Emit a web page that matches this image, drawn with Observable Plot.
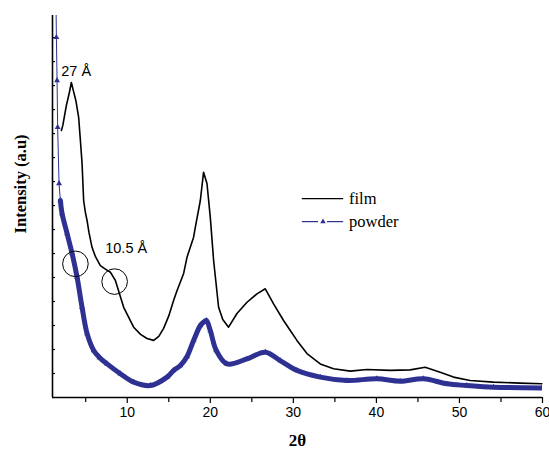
<!DOCTYPE html>
<html>
<head>
<meta charset="utf-8">
<script src="https://cdn.jsdelivr.net/npm/d3@7"></script>
<script src="https://cdn.jsdelivr.net/npm/@observablehq/plot@0.6"></script>
<style>
  html, body { margin: 0; padding: 0; background: #fff; }
</style>
</head>
<body>
<div id="chart"></div>
<script>
// ---- data ----
const filmX = [2.07, 2.25, 2.67, 3.03, 3.27, 3.51, 3.81, 4.15, 4.36, 4.56, 4.75, 4.96, 5.16, 5.39, 5.76, 6.16, 6.76, 7.37, 7.97, 8.57, 9.57, 10.77, 11.6, 12.38, 13.18, 13.8, 14.38, 15.0, 15.58, 16.0, 16.79, 17.2, 17.99, 18.2, 18.8, 19.19, 19.6, 20.0, 20.4, 21.0, 21.5, 22.2, 23.21, 24.42, 25.62, 26.62, 27.62, 28.82, 29.63, 30.43, 31.64, 33.24, 34.84, 36.85, 38.86, 41.66, 44.07, 45.87, 47.68, 49.28, 51.28, 54.09, 57.3, 59.92];
const filmY = [11.13, 11.35, 12.17, 12.71, 13.13, 12.79, 12.38, 11.67, 10.71, 9.75, 8.21, 7.71, 7.38, 6.88, 6.26, 5.88, 5.5, 5.35, 5.22, 4.88, 3.76, 2.93, 2.63, 2.46, 2.38, 2.55, 2.88, 3.4, 4.04, 4.46, 5.17, 5.85, 6.68, 7.1, 8.21, 9.39, 8.92, 7.51, 5.71, 3.76, 3.25, 2.93, 3.5, 3.97, 4.32, 4.53, 3.9, 3.21, 2.79, 2.38, 1.83, 1.4, 1.2, 1.1, 1.17, 1.13, 1.15, 1.26, 1.05, 0.85, 0.71, 0.64, 0.6, 0.57];
const powderX = [1.42, 1.47, 1.55, 1.62, 1.79, 1.95, 2.15, 2.76, 3.36, 3.96, 4.56, 5.16, 5.96, 6.65, 7.57, 9.17, 10.77, 12.78, 14.79, 15.56, 16.39, 17.2, 17.99, 18.8, 19.16, 19.52, 20.0, 20.72, 22.01, 24.42, 26.62, 28.42, 30.43, 33.24, 36.45, 40.06, 42.86, 45.67, 48.48, 50.89, 54.09, 59.92];
const powderY = [16.4, 15.01, 13.21, 11.26, 8.92, 8.21, 7.67, 6.83, 6.0, 5.01, 3.76, 2.67, 1.96, 1.67, 1.4, 0.99, 0.64, 0.5, 0.85, 1.12, 1.33, 1.71, 2.38, 3.0, 3.13, 3.21, 2.79, 1.96, 1.4, 1.61, 1.89, 1.54, 1.13, 0.85, 0.71, 0.78, 0.68, 0.78, 0.57, 0.5, 0.43, 0.4];
const xTicks = [10, 20, 30, 40, 50, 60];
const xMinorTicks = [5, 15, 25, 35, 45, 55];
const yTicks = [1, 2, 3, 4, 5, 6, 7, 8, 9, 10, 11, 12, 13, 14, 15];
const seriesNames = ["film", "powder"];
const annotLabels = ["27 Å", "10.5 Å"];
const annotX = [2.05, 7.35];
const annotY = [13.6, 6.2];
const circleX = [3.76, 8.48];
const circleY = [5.57, 4.83];

// ---- build tables ----
const film = filmX.map((x, i) => ({x, y: filmY[i]}));
const powder = powderX.map((x, i) => ({x, y: powderY[i]}));
const annots = annotLabels.map((t, i) => ({t, x: annotX[i], y: annotY[i]}));
const circles = circleX.map((x, i) => ({x, y: circleY[i]}));

const blue = "#2E3192";
const sans = "'Liberation Sans', Arial, sans-serif";
const serif = "'Liberation Serif', 'Times New Roman', serif";

// legend placement (data units)
const legX1 = 31.08, legX2 = 36.06, legTextX = 36.7;
const legY = [8.29, 7.33];

const chart = Plot.plot({
  width: 549,
  height: 452,
  marginLeft: 52,
  marginRight: 7,
  marginTop: 15,
  marginBottom: 55,
  x: {domain: [1, 60]},
  y: {domain: [0, 15.92]},
  style: {fontFamily: sans, fontSize: "14px", color: "#000", background: "#fff"},
  marks: [
    Plot.axisX({ticks: xTicks, tickSize: 6, tickPadding: 4, tickFormat: d => String(d), label: null, fontSize: 14, strokeWidth: 1.2}),
    Plot.axisX({ticks: xMinorTicks, tickSize: 5, tickFormat: () => "", label: null, strokeWidth: 1.2}),
    Plot.axisY({ticks: yTicks, tickSize: 3, dx: 3, tickFormat: () => "", label: null, strokeWidth: 1.2}),
    // powder
    Plot.line(powder, {x: "x", y: "y", stroke: blue, strokeWidth: 1, clip: true}),
    Plot.line(powder.filter(d => d.x >= 1.9), {x: "x", y: "y", stroke: blue, strokeWidth: 5, strokeLinejoin: "round", curve: "catmull-rom", clip: true}),
    Plot.dot(powder, {x: "x", y: "y", symbol: "triangle", r: 2.2, fill: blue, clip: true}),
    // film
    Plot.line(film, {x: "x", y: "y", stroke: "#000", strokeWidth: 1.6, strokeLinejoin: "round"}),
    // axis lines
    Plot.ruleX([1], {stroke: "#000", strokeWidth: 1.6}),
    Plot.ruleY([0], {stroke: "#000", strokeWidth: 1.6}),
    // annotations
    Plot.text(annots, {x: "x", y: "y", text: "t", textAnchor: "start", fontSize: 14.5, fontFamily: sans, fill: "#000"}),
    Plot.dot(circles, {x: "x", y: "y", r: 12.8, stroke: "#000", strokeWidth: 1, fill: "none"}),
    // legend
    Plot.ruleY([legY[0]], {x1: legX1, x2: legX2, stroke: "#000", strokeWidth: 1.2}),
    Plot.ruleY([legY[1]], {x1: legX1, x2: legX1 + 1.95, stroke: blue, strokeWidth: 1.2}),
    Plot.ruleY([legY[1]], {x1: legX2 - 1.95, x2: legX2, stroke: blue, strokeWidth: 1.2}),
    Plot.dot([legY[1]], {x: (legX1 + legX2) / 2, y: d => d, symbol: "triangle", r: 2, fill: blue}),
    Plot.text(seriesNames, {x: legTextX, y: (d, i) => legY[i], text: d => d, textAnchor: "start", fontFamily: serif, fontSize: 16.5, fill: "#000"}),
    // axis titles
    Plot.text(["2θ"], {x: 30.5, y: -1.8, text: d => d, fontFamily: serif, fontWeight: "bold", fontSize: 17, fill: "#000"}),
    Plot.text(["Intensity (a.u)"], {x: -2.85, y: 8.9, text: d => d, rotate: -90, fontFamily: serif, fontWeight: "bold", fontSize: 16.5, fill: "#000"})
  ]
});
document.getElementById("chart").appendChild(chart);
</script>
</body>
</html>
